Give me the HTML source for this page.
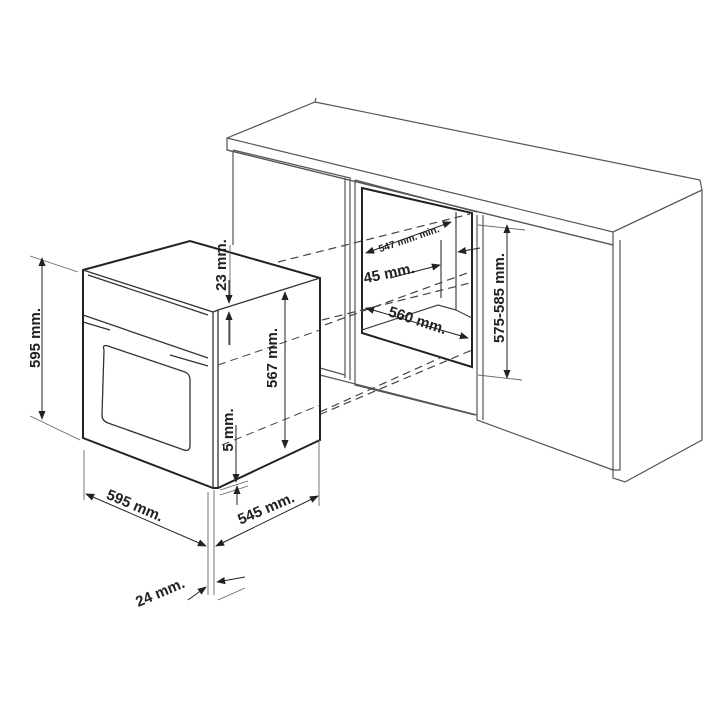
<!DOCTYPE html>
<html><head><meta charset="utf-8"><style>
html,body{margin:0;padding:0;background:#fff;}
svg{display:block}
text{font-family:"Liberation Sans",sans-serif;font-weight:bold;fill:#222;}
</style></head><body>
<svg width="720" height="720" viewBox="0 0 720 720" xmlns="http://www.w3.org/2000/svg">
<defs>
<marker id="a" viewBox="0 0 10 10" refX="9" refY="5" markerWidth="9" markerHeight="9" orient="auto-start-reverse"><path d="M0,1 L10,5 L0,9 z" fill="#222"/></marker>
</defs>
<g fill="none" stroke="#555" stroke-width="1.2">
<path d="M315,102 L700,180 L702,190 L613,232 L613,245 L227,150 L227,138 L315,102 Z" fill="#fff"/>
<path d="M316,98 L315,102 M227,138 L613,232 L702,190"/>
<path d="M227,150 L613,245"/>
<path d="M620,240 L620,470 L613,470 L613,478 L625,482 L702,440 L702,190"/>
<path d="M613,245 L613,470"/>
<path d="M233,152 L233,245"/>
<path d="M233,150 L350,178 L350,380 M345,178 L345,378"/>
<path d="M320,375 L477,415 M320,368 L345,375"/>
<path d="M477,215 L477,420 L613,470 M483,215 L483,420"/>
<path d="M355,180 L355,385 L475,415 M355,180 L477,212"/>
</g>
<g fill="none" stroke="#222" stroke-width="2">
<path d="M362,188 L472,213 L472,367 L362,333 Z"/>
</g>
<g fill="none" stroke="#444" stroke-width="1.2">
<path d="M456,212 L456,310 L472,318 M456,310 L438,305 L362,330"/>
<path d="M441,240 L441,298"/>
</g>
<g fill="none" stroke="#444" stroke-width="1.2" stroke-dasharray="8,5">
<path d="M278,262 L470,214"/>
<path d="M215,365 L470,272"/>
<path d="M322,320 L470,283"/>
<path d="M236,450 L472,350"/>
<path d="M320,412 L440,358"/>
</g>
<g fill="#fff" stroke="#222" stroke-width="2">
<path d="M83,270 L190,241 L320,278 L320,440 L218,488 L213,488 L83,438 Z"/>
</g>
<g fill="none" stroke="#333" stroke-width="1.3">
<path d="M83,270 L213,312 L213,488"/>
<path d="M213,312 L218,310 L320,278 M218,310 L218,488"/>
<path d="M88,275 L208,315"/>
<path d="M83,315 L208,358 M83,322 L110,330 M170,355 L208,366"/>
<path d="M104,350 Q102,344 108,346 L185,372 Q190,374 190,380 L190,445 Q190,452 184,450 L108,423 Q102,421 102,415 Z"/>
</g>
<g fill="none" stroke="#444" stroke-width="1" stroke-dasharray="8,5">
<path d="M218,365 L320,330"/>
<path d="M222,445 L320,405"/>
</g>
<g fill="none" stroke="#666" stroke-width="0.9">
<path d="M30,256 L78,272 M30,416 L80,440"/>
<path d="M84,450 L84,500 M208,492 L208,595 M214,490 L214,595 M319,440 L319,506"/>
<path d="M230,245 L230,300 M230,320 L230,345"/>
<path d="M220,495 L248,486 M220,490 L248,481"/>
<path d="M478,225 L525,230 M478,375 L522,380"/>
<path d="M218,600 L245,588"/>
</g>
<g fill="none" stroke="#222" stroke-width="1" marker-end="url(#a)" marker-start="url(#a)">
<path d="M42,258 L42,419"/>
<path d="M86,494 L206,546"/>
<path d="M216,546 L318,496"/>
<path d="M285,292 L285,448"/>
<path d="M507,225 L507,378"/>
<path d="M366,253 L451,222"/>
<path d="M366,308 L468,338"/>
</g>
<g fill="none" stroke="#222" stroke-width="1" marker-end="url(#a)">
<path d="M229,280 L229,303"/>
<path d="M229,345 L229,312"/>
<path d="M236,425 L236,482"/>
<path d="M237,505 L237,486"/>
<path d="M188,600 L206,587"/>
<path d="M245,577 L217,582"/>
<path d="M390,278 L440,265"/>
<path d="M480,248 L458,252"/>
</g>
<text font-size="15" transform="translate(40,338) rotate(-90)" text-anchor="middle">595 mm.</text>
<text font-size="15" transform="translate(133,510) rotate(23)" text-anchor="middle">595 mm.</text>
<text font-size="15" transform="translate(268,513) rotate(-23)" text-anchor="middle">545 mm.</text>
<text font-size="15" transform="translate(162,597) rotate(-23)" text-anchor="middle">24 mm.</text>
<text font-size="15" transform="translate(226,265) rotate(-90)" text-anchor="middle">23 mm.</text>
<text font-size="15" transform="translate(277,358) rotate(-90)" text-anchor="middle">567 mm.</text>
<text font-size="15" transform="translate(233,430) rotate(-90)" text-anchor="middle">5 mm.</text>
<text font-size="15" transform="translate(504,298) rotate(-90)" text-anchor="middle">575-585 mm.</text>
<text font-size="10" transform="translate(410,242) rotate(-19)" text-anchor="middle">547 mm. min.</text>
<text font-size="15" transform="translate(390,278) rotate(-12)" text-anchor="middle">45 mm.</text>
<text font-size="15" transform="translate(416,325) rotate(18)" text-anchor="middle">560 mm.</text>
</svg>
</body></html>
